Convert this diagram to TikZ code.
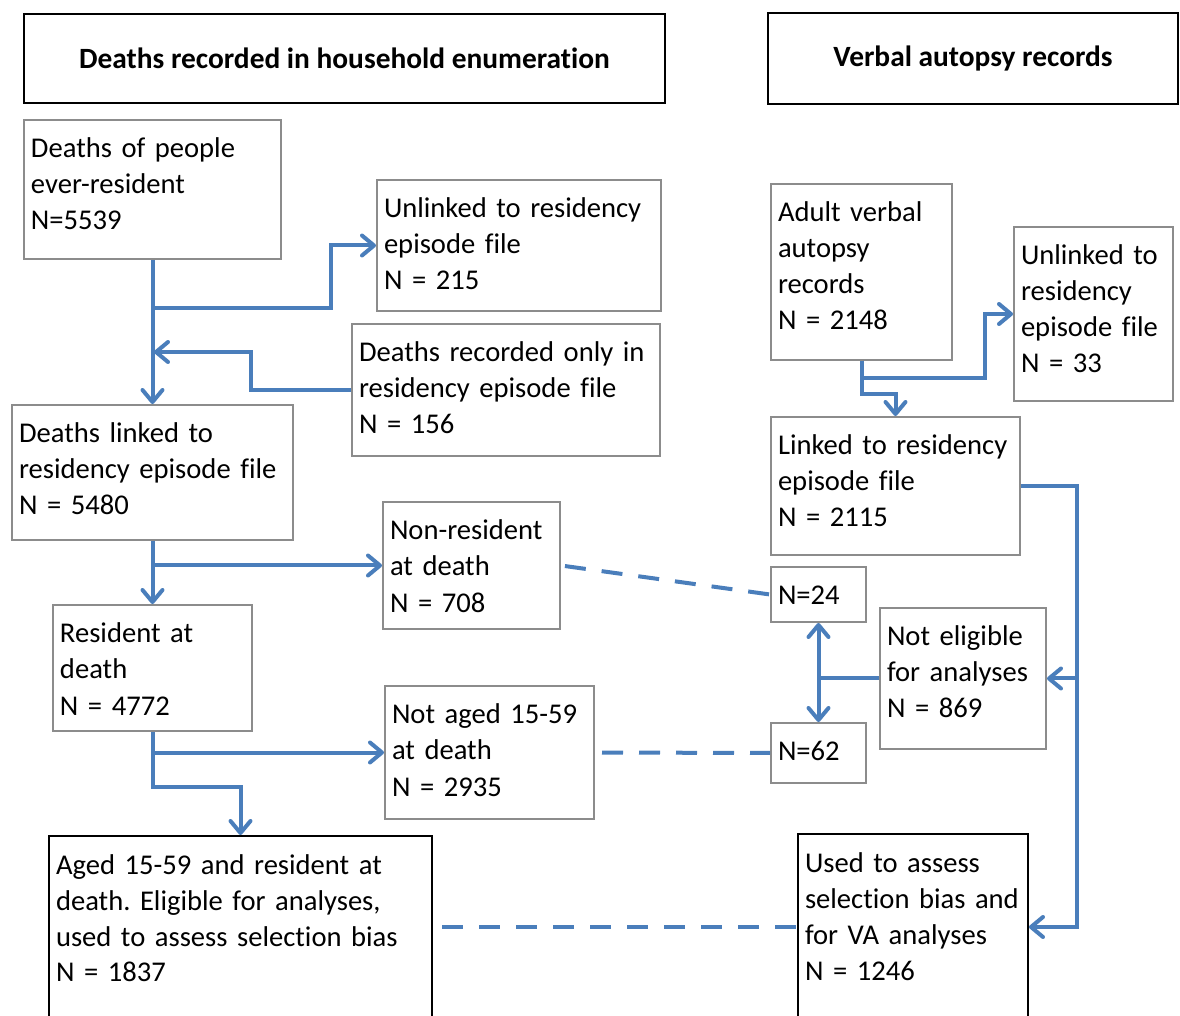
\documentclass[tikz,border=0pt]{standalone}
\usepackage{fontspec}
\setmainfont[Ligatures=NoCommon]{Carlito}
\usepackage{tikz}
\usetikzlibrary{arrows.meta}
\frenchspacing

\definecolor{flowblue}{RGB}{74,126,187}
\definecolor{boxgray}{RGB}{140,140,140}

\begin{document}
\begin{tikzpicture}[x=0.5pt,y=-0.5pt,
    every node/.style={font=\fontsize{14.3}{18}\selectfont},
    box/.style={draw=boxgray,line width=1pt,anchor=north west,align=left,inner xsep=3.5pt,inner ysep=4pt,text height=15pt},
    head/.style={draw=black,line width=1pt,anchor=north west,font=\fontsize{14.7}{18}\selectfont\bfseries},
    flow/.style={flowblue,line width=2pt,-{Straight Barb[length=6pt,width=10pt,round]}},
    twoway/.style={flowblue,line width=2pt,{Straight Barb[length=6pt,width=10pt,round]}-{Straight Barb[length=6pt,width=10pt,round]}},
    link/.style={flowblue,line width=2pt},
    dashline/.style={flowblue,line width=2pt,dash pattern=on 10.5pt off 8pt}]
  \clip (0,0) rectangle (1180,1016);

  % headers
  \node[head,minimum width=320.5pt,minimum height=44.5pt] (hdrHH) at (23,13) {Deaths recorded in household enumeration};
  \node[head,minimum width=205pt,minimum height=45.5pt] (hdrVA) at (767,12) {Verbal autopsy records};

  % household side
  \node[box,text width=121.5pt,text depth=46.5pt] (ever) at (23,119) {Deaths of people\\ever-resident\\N=5539};
  \node[box,text width=135pt,text depth=42.5pt] (unlinkedHH) at (376,179) {Unlinked to residency\\episode file\\N = 215};
  \node[box,text width=147pt,text depth=43pt] (onlyRes) at (351,323) {Deaths recorded only in\\residency episode file\\N = 156};
  \node[box,text width=133.5pt,text depth=44.5pt] (linked) at (11,404) {Deaths linked to\\residency episode file\\N = 5480};
  \node[box,text width=81.5pt,text depth=40.5pt] (nonRes) at (382,501) {Non-resident\\at death\\N = 708};
  \node[box,text width=92.5pt,text depth=40pt] (res) at (52,604) {Resident at\\death\\N = 4772};
  \node[box,text width=97.5pt,text depth=43.5pt] (notAged) at (384,685) {Not aged 15-59\\at death\\N = 2935};
  \node[box,draw=black,text width=184.5pt,text depth=120pt] (eligible) at (48,835) {Aged 15-59 and resident at\\death. Eligible for analyses,\\used to assess selection bias\\N = 1837};

  % verbal autopsy side
  \node[box,text width=83.5pt,text depth=65pt] (adultVA) at (770,183) {Adult verbal\\autopsy\\records\\N = 2148};
  \node[box,text width=72.5pt,text depth=64pt] (unlinkedVA) at (1013,226) {Unlinked to\\residency\\episode file\\N = 33};
  \node[box,text width=117.5pt,text depth=46pt] (linkedVA) at (770,416) {Linked to residency\\episode file\\N = 2115};
  \node[box,text width=40.5pt,text depth=4.5pt] (n24) at (770,566) {N=24};
  \node[box,text width=76pt,text depth=47.5pt] (notElig) at (879,607) {Not eligible\\for analyses\\N = 869};
  \node[box,text width=40.5pt,text depth=7pt] (n62) at (770,722) {N=62};
  \node[box,draw=black,text width=108pt,text depth=120pt] (usedVA) at (797,833) {Used to assess\\selection bias and\\for VA analyses\\N = 1246};

  \coordinate (lowrow) at (0,927);
  \coordinate (rail) at ([xshift=28pt]linkedVA.east);

  % flows, household side
  \draw[flow] (ever.south) -- (linked.north);
  \draw[flow] (ever.south) ++(0,48) -- ++(178,0) |- (unlinkedHH.west);
  \draw[flow] (onlyRes.west) -- ++(-100,0) -- ++(0,-38) -- ++(-97,0);
  \draw[flow] (linked.south) -- (res.north);
  \draw[flow] (linked.south |- nonRes.west) -- (nonRes.west);
  \draw[flow] (res.south) -- ++(0,55) -| (eligible.north);
  \draw[flow] (res.south |- notAged.west) -- (notAged.west);

  % flows, verbal autopsy side
  \draw[flow] (adultVA.south) -- ++(0,17) -- ++(123,0) |- (unlinkedVA.west);
  \draw[flow] (adultVA.south) -- ++(0,33) -| (linkedVA.north);
  \draw[flow] (linkedVA.east) -- (rail) |- (usedVA.east |- lowrow);
  \draw[flow] (rail |- notElig.east) -- (notElig.east);
  \draw[link] (notElig.west) -- (n24.south |- notElig.west);
  \draw[twoway] (n24.south) -- (n62.north);

  % matches between the two sources
  \draw[dashline,shorten <=2pt] (nonRes.east) -- (n24.west);
  \draw[dashline,shorten <=3.5pt] (notAged.east) -- (n62.west);
  \draw[dashline,shorten <=4.5pt] (eligible.east |- lowrow) -- (usedVA.west |- lowrow);
\end{tikzpicture}
\end{document}
